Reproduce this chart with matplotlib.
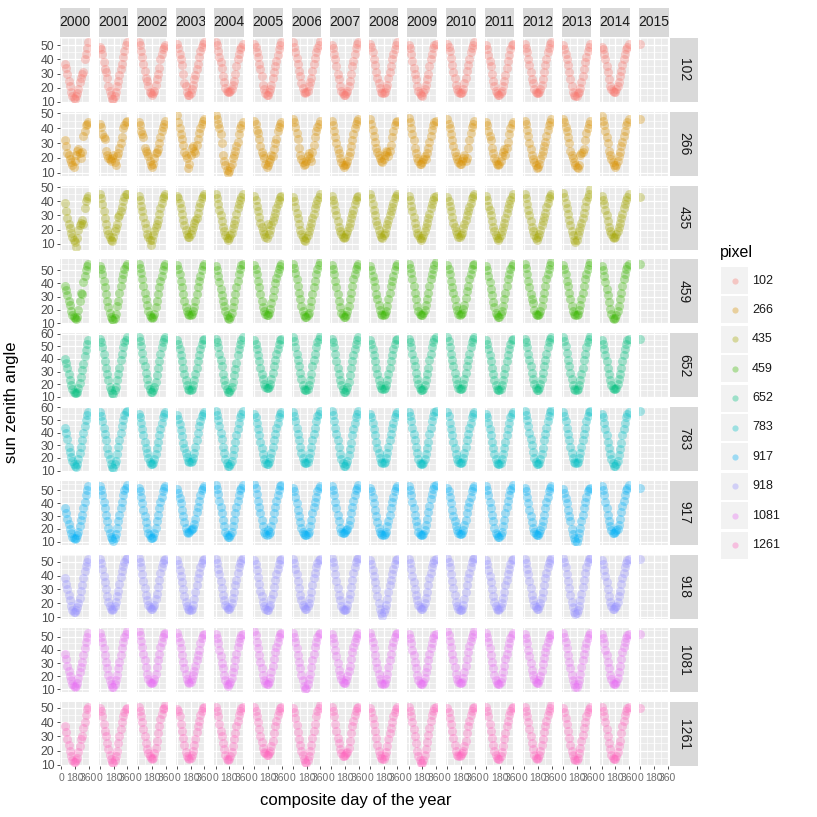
import matplotlib
matplotlib.use('Agg')
import matplotlib.pyplot as plt
import numpy as np

plt.rcParams['font.family'] = ['Liberation Sans', 'DejaVu Sans']

# 16-day composite days of the year
days = [1, 17, 33, 49, 65, 81, 97, 113, 129, 145, 161, 177, 193,
        209, 225, 241, 257, 273, 289, 305, 321, 337, 353]
years = list(range(2000, 2016))
pixels = ['102', '266', '435', '459', '652', '783', '917', '918', '1081', '1261']
colors = ['#F8766D', '#D89000', '#A3A500', '#39B600', '#00BF7D',
          '#00BFC4', '#00B0F6', '#9590FF', '#E76BF3', '#FF62BC']

# sun zenith angle, one list per year (2000 starts at day 49, 2015 has day 1 only)
sza_102 = [
    [37, 34, 30, 25, 21, 17, 14, 13, 12, 14, 16, 19, 24, 27, 30, 31, 40, 44, 48, 52],
    [49, 47, 44, 38, 33, 31, 27, 21, 18, 15, 12, 12, 14, 17, 21, 25, 29, 33, 37, 42, 46, 50, 52],
    [52, 50, 46, 42, 37, 32, 27, 25, 21, 17, 16, 15, 16, 18, 22, 26, 30, 34, 40, 44, 47, 49, 50],
    [51, 48, 44, 40, 36, 30, 23, 21, 17, 15, 15, 16, 19, 22, 26, 29, 33, 37, 42, 46, 49, 51, 52],
    [52, 50, 46, 42, 38, 34, 28, 24, 20, 18, 17, 17, 18, 19, 22, 25, 30, 35, 40, 44, 47, 49, 51],
    [51, 49, 45, 42, 37, 33, 28, 22, 19, 16, 15, 15, 17, 19, 22, 27, 31, 35, 39, 43, 47, 50, 52],
    [52, 49, 45, 41, 37, 32, 28, 23, 20, 17, 16, 17, 18, 21, 24, 27, 32, 37, 41, 45, 48, 50, 53],
    [50, 48, 44, 40, 35, 30, 26, 21, 18, 16, 15, 15, 16, 18, 21, 25, 30, 35, 39, 44, 48, 51, 52],
    [51, 49, 45, 40, 36, 31, 27, 23, 20, 17, 16, 16, 17, 20, 22, 27, 31, 35, 40, 44, 47, 50, 52],
    [50, 48, 44, 39, 34, 30, 26, 21, 18, 16, 15, 14, 17, 19, 22, 26, 30, 35, 40, 44, 48, 50, 51],
    [51, 49, 46, 41, 36, 31, 27, 22, 19, 17, 16, 16, 17, 19, 23, 27, 32, 36, 40, 45, 48, 50, 52],
    [50, 47, 43, 39, 35, 30, 25, 21, 18, 16, 15, 15, 16, 18, 21, 25, 29, 34, 39, 43, 47, 50, 51],
    [51, 48, 45, 40, 36, 31, 26, 23, 19, 17, 16, 16, 17, 19, 22, 26, 31, 36, 40, 45, 48, 51, 52],
    [50, 47, 44, 40, 36, 31, 26, 21, 17, 15, 14, 14, 16, 17, 20, 24, 28, 33, 38, 42, 46, 49, 51],
    [49, 47, 44, 40, 35, 31, 26, 21, 19, 18, 17, 17, 19, 21, 24, 28, 32, 36, 40, 44, 47, 49, 51],
    [51],
]
sza_266 = [
    [32, 28, 23, 22, 19, 17, 15, 14, 18, 22, 25, 26, 23, 20, 24, 35, 38, 42, 43, 44],
    [43, 41, 36, 34, 33, 25, 22, 20, 19, 18, 20, 22, 17, 15, 21, 23, 27, 30, 34, 40, 42, 44, 45],
    [44, 42, 38, 36, 34, 27, 25, 23, 21, 18, 15, 14, 16, 20, 23, 24, 26, 30, 34, 38, 41, 43, 45],
    [49, 44, 40, 36, 33, 29, 24, 22, 20, 13, 16, 22, 27, 28, 25, 23, 29, 33, 37, 40, 43, 45, 46],
    [49, 46, 43, 40, 36, 30, 22, 18, 15, 12, 10, 11, 14, 16, 20, 22, 25, 28, 31, 36, 40, 42, 44],
    [45, 43, 39, 37, 33, 28, 24, 22, 20, 16, 14, 15, 17, 19, 22, 21, 26, 30, 33, 38, 41, 43, 44],
    [46, 44, 41, 37, 33, 27, 22, 19, 17, 15, 16, 18, 21, 23, 20, 18, 24, 29, 34, 38, 41, 43, 45],
    [45, 42, 38, 34, 30, 26, 23, 20, 17, 15, 14, 15, 16, 18, 21, 24, 28, 32, 36, 40, 43, 45, 46],
    [46, 43, 39, 35, 31, 27, 24, 22, 20, 18, 17, 19, 22, 25, 24, 21, 25, 29, 34, 38, 42, 44, 45],
    [47, 44, 40, 36, 32, 27, 23, 20, 18, 16, 16, 17, 19, 21, 19, 23, 27, 31, 35, 39, 42, 44, 45],
    [46, 43, 40, 36, 32, 28, 24, 21, 19, 17, 16, 16, 18, 20, 22, 18, 20, 27, 32, 37, 41, 43, 45],
    [44, 42, 38, 35, 32, 27, 23, 20, 18, 16, 15, 16, 18, 21, 24, 26, 22, 27, 31, 36, 40, 43, 44],
    [45, 43, 39, 35, 30, 26, 22, 19, 17, 15, 13, 14, 16, 19, 22, 25, 28, 31, 35, 39, 42, 44, 46],
    [46, 44, 41, 38, 34, 30, 25, 22, 20, 17, 15, 14, 13, 15, 22, 23, 24, 26, 32, 37, 40, 43, 45],
    [48, 45, 42, 38, 34, 30, 25, 22, 19, 17, 15, 14, 15, 18, 21, 24, 28, 31, 35, 38, 42, 44, 46],
    [46],
]
sza_435 = [
    [39, 33, 28, 24, 21, 18, 15, 13, 11, 8, 14, 20, 23, 25, 27, 24, 35, 40, 42, 44],
    [45, 42, 38, 33, 28, 24, 20, 17, 15, 13, 12, 15, 19, 21, 24, 29, 30, 33, 36, 40, 43, 45, 45],
    [44, 41, 37, 33, 29, 25, 21, 17, 15, 13, 9, 13, 16, 19, 22, 24, 27, 31, 35, 39, 42, 44, 45],
    [44, 42, 39, 35, 31, 27, 23, 20, 17, 15, 15, 17, 20, 22, 25, 27, 28, 32, 36, 39, 42, 44, 45],
    [45, 42, 38, 34, 30, 26, 22, 19, 16, 14, 13, 14, 16, 18, 21, 24, 27, 31, 35, 38, 41, 43, 45],
    [44, 41, 37, 33, 29, 25, 22, 19, 17, 15, 14, 24, 17, 20, 23, 26, 29, 32, 35, 38, 41, 43, 44],
    [43, 40, 36, 32, 28, 24, 20, 17, 15, 13, 12, 14, 16, 19, 22, 25, 28, 31, 35, 38, 41, 43, 45],
    [44, 41, 38, 34, 30, 26, 22, 19, 17, 15, 14, 15, 17, 19, 22, 25, 28, 31, 34, 38, 41, 43, 44],
    [45, 42, 38, 34, 30, 26, 23, 20, 17, 15, 14, 16, 18, 21, 24, 27, 30, 33, 36, 39, 42, 44, 45],
    [44, 41, 37, 33, 29, 25, 21, 18, 16, 14, 13, 14, 16, 19, 22, 25, 28, 31, 35, 38, 41, 43, 44],
    [43, 40, 37, 33, 29, 25, 22, 19, 17, 15, 15, 16, 18, 21, 24, 27, 30, 33, 36, 39, 42, 44, 45],
    [44, 41, 37, 34, 30, 26, 22, 19, 16, 14, 13, 14, 16, 19, 22, 25, 28, 32, 35, 38, 41, 43, 45],
    [45, 42, 38, 34, 30, 26, 22, 19, 16, 14, 13, 15, 17, 20, 23, 26, 29, 32, 36, 39, 42, 44, 45],
    [46, 43, 39, 35, 31, 27, 23, 19, 16, 13, 11, 13, 16, 19, 22, 25, 28, 32, 36, 40, 43, 45, 49],
    [44, 41, 38, 34, 30, 26, 22, 19, 17, 15, 14, 15, 17, 19, 22, 25, 28, 31, 35, 38, 41, 43, 45],
    [43],
]
sza_459 = [
    [38, 35, 31, 27, 24, 19, 16, 15, 14, 13, 15, 20, 27, 33, 32, 41, 46, 50, 53, 55],
    [53, 51, 47, 42, 37, 32, 27, 22, 18, 15, 13, 12, 14, 17, 23, 27, 33, 38, 43, 47, 51, 53, 55],
    [55, 52, 48, 43, 38, 33, 28, 24, 19, 16, 15, 14, 15, 17, 22, 27, 32, 37, 42, 46, 50, 53, 55],
    [54, 51, 47, 42, 37, 32, 27, 22, 19, 17, 16, 16, 17, 19, 22, 27, 32, 37, 42, 46, 50, 53, 55],
    [53, 50, 46, 41, 36, 31, 27, 23, 19, 16, 14, 13, 15, 18, 22, 27, 32, 37, 42, 47, 51, 54, 55],
    [54, 51, 47, 42, 37, 32, 27, 22, 19, 17, 16, 16, 18, 21, 25, 30, 35, 40, 44, 48, 51, 53, 55],
    [55, 52, 48, 43, 38, 33, 28, 23, 19, 16, 15, 15, 16, 18, 22, 27, 32, 37, 42, 47, 51, 54, 56],
    [54, 51, 47, 42, 37, 32, 27, 22, 18, 16, 15, 15, 16, 19, 23, 28, 33, 38, 43, 47, 51, 53, 55],
    [53, 50, 46, 42, 37, 32, 28, 24, 20, 17, 16, 16, 17, 19, 23, 28, 33, 38, 42, 46, 50, 53, 55],
    [55, 52, 48, 43, 38, 33, 28, 23, 19, 17, 16, 16, 18, 20, 24, 28, 33, 38, 43, 47, 51, 54, 56],
    [54, 51, 47, 42, 37, 33, 28, 23, 20, 17, 16, 17, 18, 21, 24, 29, 34, 38, 43, 47, 51, 54, 55],
    [53, 50, 46, 41, 36, 31, 26, 22, 18, 16, 15, 15, 17, 19, 23, 28, 33, 38, 43, 47, 51, 53, 55],
    [55, 52, 47, 42, 37, 32, 28, 25, 20, 17, 16, 16, 17, 19, 23, 28, 33, 38, 43, 47, 51, 54, 56],
    [54, 51, 47, 42, 38, 33, 28, 23, 19, 17, 16, 16, 17, 20, 24, 28, 33, 38, 43, 47, 51, 54, 56],
    [53, 50, 46, 41, 36, 31, 26, 21, 17, 14, 13, 14, 16, 19, 23, 28, 33, 38, 43, 47, 51, 53, 55],
    [55],
]
sza_652 = [
    [40, 37, 33, 28, 23, 19, 16, 14, 13, 13, 14, 17, 21, 26, 31, 36, 42, 47, 52, 55],
    [56, 53, 49, 44, 38, 33, 28, 23, 18, 15, 13, 12, 15, 18, 23, 28, 33, 39, 44, 49, 53, 55, 57],
    [57, 54, 50, 45, 39, 34, 29, 24, 19, 16, 14, 14, 15, 18, 22, 27, 33, 38, 44, 49, 53, 56, 57],
    [55, 52, 48, 43, 38, 33, 28, 23, 19, 16, 15, 15, 16, 19, 23, 28, 33, 38, 43, 48, 52, 55, 56],
    [56, 53, 49, 44, 39, 34, 28, 23, 19, 16, 14, 14, 15, 18, 22, 27, 32, 37, 43, 48, 52, 55, 57],
    [55, 52, 48, 43, 38, 33, 28, 24, 20, 18, 17, 17, 18, 20, 24, 29, 34, 39, 44, 48, 52, 55, 56],
    [57, 54, 49, 44, 39, 34, 29, 24, 19, 16, 15, 15, 16, 19, 23, 28, 34, 39, 44, 49, 53, 56, 58],
    [56, 53, 49, 44, 38, 33, 28, 23, 19, 16, 14, 14, 15, 18, 22, 27, 33, 38, 43, 48, 52, 55, 57],
    [55, 52, 48, 43, 38, 33, 28, 23, 19, 17, 16, 16, 17, 19, 23, 28, 33, 38, 43, 48, 52, 55, 56],
    [56, 53, 49, 44, 39, 34, 29, 24, 20, 17, 15, 15, 16, 19, 23, 28, 33, 39, 44, 49, 53, 56, 57],
    [57, 54, 49, 44, 39, 34, 29, 24, 20, 17, 16, 16, 17, 20, 24, 29, 34, 39, 44, 49, 53, 56, 57],
    [55, 52, 48, 43, 38, 33, 28, 23, 19, 16, 15, 15, 16, 19, 23, 28, 33, 38, 43, 48, 52, 55, 56],
    [56, 53, 49, 44, 39, 34, 29, 24, 20, 17, 15, 15, 17, 20, 24, 29, 34, 39, 44, 49, 53, 56, 57],
    [57, 54, 50, 45, 39, 34, 29, 24, 19, 16, 15, 15, 16, 19, 23, 28, 33, 39, 44, 49, 53, 56, 58],
    [55, 52, 48, 43, 38, 33, 28, 23, 19, 17, 16, 16, 17, 20, 24, 28, 33, 38, 43, 48, 52, 55, 56],
    [56],
]
sza_783 = [
    [44, 40, 35, 29, 25, 21, 18, 15, 14, 13, 15, 19, 24, 29, 34, 40, 45, 50, 54, 56],
    [56, 53, 49, 44, 39, 34, 28, 23, 19, 15, 13, 12, 15, 18, 23, 29, 34, 40, 45, 50, 54, 56, 57],
    [55, 52, 48, 43, 38, 33, 28, 24, 20, 17, 15, 15, 16, 19, 23, 28, 33, 38, 43, 48, 52, 55, 56],
    [54, 51, 47, 42, 37, 32, 28, 24, 21, 18, 17, 17, 18, 20, 24, 29, 34, 40, 45, 49, 53, 55, 56],
    [57, 54, 50, 45, 40, 35, 29, 24, 19, 16, 14, 14, 15, 18, 22, 27, 33, 38, 43, 48, 52, 55, 57],
    [55, 52, 48, 43, 38, 33, 28, 23, 19, 16, 15, 15, 17, 20, 24, 29, 34, 39, 44, 48, 52, 55, 56],
    [56, 53, 49, 44, 39, 34, 29, 24, 20, 17, 16, 16, 17, 20, 24, 29, 34, 39, 44, 49, 53, 55, 57],
    [57, 54, 49, 44, 39, 34, 29, 23, 19, 16, 14, 14, 15, 18, 22, 27, 32, 38, 43, 48, 52, 55, 57],
    [55, 52, 48, 43, 38, 33, 28, 24, 20, 17, 16, 16, 17, 20, 24, 29, 34, 39, 44, 48, 52, 55, 56],
    [56, 53, 49, 44, 39, 34, 29, 24, 19, 16, 15, 15, 16, 19, 23, 28, 33, 39, 44, 49, 53, 56, 57],
    [56, 53, 48, 43, 38, 33, 28, 23, 19, 17, 16, 16, 17, 20, 24, 29, 34, 39, 44, 48, 52, 55, 56],
    [55, 52, 48, 43, 38, 33, 28, 23, 19, 16, 15, 15, 16, 19, 23, 28, 33, 38, 43, 48, 52, 55, 56],
    [57, 54, 50, 45, 40, 35, 30, 25, 20, 17, 15, 15, 16, 19, 23, 28, 34, 39, 44, 49, 53, 56, 58],
    [56, 53, 49, 44, 39, 34, 29, 24, 20, 17, 16, 16, 17, 20, 24, 29, 34, 39, 44, 49, 53, 56, 57],
    [55, 52, 48, 43, 38, 33, 28, 23, 19, 16, 14, 14, 15, 18, 22, 27, 32, 38, 43, 48, 52, 55, 56],
    [57],
]
sza_917 = [
    [36, 32, 28, 24, 20, 17, 14, 13, 12, 13, 15, 18, 22, 27, 31, 36, 41, 46, 50, 53],
    [53, 50, 46, 41, 36, 31, 26, 21, 17, 14, 12, 11, 13, 16, 21, 26, 31, 36, 41, 46, 50, 52, 54],
    [52, 49, 45, 40, 35, 30, 25, 21, 17, 15, 13, 13, 14, 17, 21, 26, 31, 36, 41, 45, 49, 52, 53],
    [51, 48, 44, 40, 35, 30, 25, 21, 18, 17, 18, 19, 20, 21, 24, 28, 33, 37, 42, 46, 50, 52, 53],
    [54, 51, 47, 42, 37, 32, 27, 22, 18, 15, 14, 14, 15, 18, 22, 27, 32, 37, 42, 46, 50, 52, 54],
    [55, 52, 47, 42, 37, 32, 27, 22, 18, 16, 15, 19, 16, 18, 22, 27, 32, 37, 42, 46, 50, 53, 54],
    [52, 49, 45, 40, 35, 30, 25, 21, 18, 16, 15, 15, 16, 18, 22, 27, 32, 37, 41, 45, 49, 52, 53],
    [53, 50, 46, 41, 36, 31, 26, 21, 18, 17, 17, 18, 19, 20, 23, 27, 32, 37, 42, 46, 50, 52, 54],
    [52, 49, 45, 40, 35, 30, 25, 21, 18, 16, 15, 15, 16, 18, 22, 26, 31, 36, 41, 45, 49, 52, 53],
    [53, 50, 46, 41, 36, 31, 26, 22, 18, 16, 15, 15, 16, 19, 23, 28, 33, 38, 43, 47, 51, 53, 54],
    [52, 49, 45, 40, 35, 30, 26, 22, 19, 17, 16, 16, 17, 19, 23, 27, 32, 37, 41, 45, 49, 52, 53],
    [53, 50, 46, 41, 36, 31, 26, 21, 17, 15, 14, 14, 15, 18, 22, 27, 32, 37, 42, 46, 50, 52, 54],
    [52, 49, 45, 40, 35, 30, 25, 21, 18, 16, 15, 15, 17, 19, 22, 26, 31, 36, 41, 45, 49, 52, 53],
    [51, 48, 44, 40, 35, 30, 26, 20, 16, 13, 11, 10, 13, 17, 21, 26, 31, 36, 41, 45, 49, 51, 52],
    [53, 50, 46, 41, 36, 31, 26, 22, 19, 17, 17, 18, 19, 20, 23, 28, 33, 38, 42, 46, 50, 52, 54],
    [52],
]
sza_918 = [
    [38, 34, 30, 26, 22, 18, 15, 14, 14, 15, 17, 20, 24, 29, 33, 38, 43, 47, 50, 52],
    [52, 49, 45, 40, 35, 30, 25, 21, 18, 16, 15, 16, 18, 21, 25, 29, 34, 39, 43, 47, 50, 52, 53],
    [53, 50, 46, 41, 36, 31, 26, 22, 19, 17, 16, 16, 17, 19, 23, 27, 32, 37, 42, 46, 49, 51, 52],
    [51, 48, 44, 40, 35, 30, 25, 21, 18, 16, 15, 15, 16, 19, 23, 28, 33, 38, 42, 46, 49, 51, 52],
    [52, 49, 45, 41, 36, 31, 26, 22, 19, 17, 16, 16, 17, 20, 24, 28, 33, 37, 42, 46, 49, 51, 53],
    [51, 48, 44, 39, 34, 29, 25, 21, 18, 16, 15, 15, 17, 19, 23, 27, 32, 37, 41, 45, 48, 51, 52],
    [52, 49, 45, 41, 36, 31, 26, 22, 19, 17, 16, 16, 18, 20, 24, 28, 33, 38, 42, 46, 49, 51, 52],
    [53, 50, 46, 41, 36, 31, 26, 22, 18, 16, 15, 15, 16, 19, 23, 27, 32, 37, 42, 46, 50, 52, 53],
    [51, 48, 44, 40, 35, 30, 25, 20, 16, 13, 11, 14, 16, 19, 23, 28, 33, 37, 41, 45, 48, 51, 52],
    [52, 49, 45, 40, 35, 30, 26, 22, 19, 17, 16, 16, 17, 20, 24, 28, 33, 38, 42, 46, 49, 51, 52],
    [53, 50, 46, 41, 36, 31, 26, 21, 18, 16, 15, 15, 16, 19, 23, 28, 33, 38, 42, 46, 50, 52, 53],
    [51, 48, 44, 40, 35, 30, 25, 21, 18, 16, 15, 16, 17, 20, 24, 28, 33, 37, 41, 45, 48, 51, 52],
    [52, 49, 45, 41, 36, 31, 26, 22, 19, 17, 16, 16, 18, 20, 24, 28, 33, 38, 42, 46, 49, 51, 53],
    [53, 50, 46, 41, 36, 31, 26, 21, 17, 14, 12, 13, 15, 18, 22, 27, 32, 37, 42, 46, 50, 52, 53],
    [51, 48, 44, 40, 35, 30, 25, 21, 18, 16, 16, 17, 18, 21, 25, 29, 34, 38, 42, 46, 49, 51, 52],
    [52],
]
sza_1081 = [
    [37, 33, 28, 24, 20, 17, 14, 13, 12, 13, 15, 19, 23, 27, 31, 36, 41, 46, 50, 53],
    [53, 50, 46, 41, 36, 31, 26, 21, 17, 14, 12, 12, 14, 17, 21, 26, 31, 36, 41, 46, 50, 52, 54],
    [54, 51, 47, 42, 37, 32, 27, 22, 18, 16, 15, 15, 16, 18, 22, 27, 32, 37, 42, 46, 50, 52, 53],
    [53, 50, 46, 41, 36, 31, 26, 22, 18, 16, 15, 16, 18, 21, 24, 28, 32, 36, 40, 45, 49, 51, 52],
    [52, 49, 45, 40, 35, 30, 26, 21, 17, 14, 13, 14, 16, 19, 23, 27, 32, 37, 42, 46, 49, 51, 52],
    [54, 51, 46, 41, 36, 31, 26, 21, 17, 15, 14, 14, 16, 19, 23, 28, 33, 38, 42, 46, 50, 52, 53],
    [53, 50, 46, 41, 36, 31, 26, 21, 17, 13, 10, 11, 14, 18, 22, 27, 32, 37, 42, 46, 50, 52, 53],
    [52, 49, 45, 40, 35, 30, 25, 21, 18, 16, 15, 15, 17, 20, 24, 28, 33, 38, 42, 46, 49, 51, 53],
    [53, 50, 46, 41, 36, 31, 26, 22, 18, 15, 14, 14, 15, 18, 22, 27, 32, 37, 42, 46, 50, 52, 53],
    [52, 49, 45, 40, 36, 31, 26, 21, 17, 15, 14, 14, 16, 19, 23, 27, 32, 37, 41, 45, 49, 51, 52],
    [54, 51, 47, 42, 37, 32, 27, 22, 18, 16, 15, 15, 16, 19, 23, 28, 33, 38, 43, 47, 50, 52, 54],
    [53, 50, 46, 41, 36, 31, 26, 21, 17, 15, 14, 14, 16, 19, 23, 28, 33, 37, 41, 45, 49, 51, 53],
    [52, 49, 45, 40, 35, 30, 25, 21, 18, 16, 15, 15, 17, 20, 24, 29, 34, 38, 42, 46, 49, 51, 52],
    [53, 50, 46, 41, 36, 31, 26, 21, 17, 14, 12, 12, 14, 17, 22, 27, 32, 37, 41, 45, 49, 51, 53],
    [52, 49, 45, 40, 36, 31, 26, 21, 18, 15, 14, 14, 16, 19, 23, 28, 33, 38, 42, 46, 49, 51, 52],
    [52],
]
sza_1261 = [
    [37, 33, 28, 24, 20, 16, 13, 12, 12, 13, 15, 19, 23, 28, 30, 36, 40, 45, 49, 51],
    [50, 48, 44, 39, 34, 30, 25, 21, 17, 14, 12, 11, 13, 16, 20, 25, 30, 35, 40, 44, 47, 49, 50],
    [51, 48, 44, 40, 35, 30, 25, 21, 18, 16, 15, 14, 15, 18, 22, 27, 32, 37, 42, 46, 49, 50, 52],
    [49, 48, 44, 39, 34, 29, 24, 19, 16, 15, 14, 15, 17, 20, 24, 28, 33, 37, 41, 45, 48, 50, 51],
    [51, 48, 44, 39, 34, 30, 25, 21, 17, 14, 13, 14, 16, 19, 23, 28, 32, 37, 41, 45, 48, 50, 51],
    [51, 48, 44, 40, 35, 30, 26, 22, 19, 18, 17, 17, 18, 20, 23, 27, 32, 37, 41, 45, 48, 50, 51],
    [50, 47, 43, 38, 33, 28, 24, 20, 17, 14, 12, 11, 13, 16, 20, 24, 29, 34, 39, 44, 48, 50, 52],
    [51, 48, 44, 39, 34, 29, 25, 21, 18, 16, 16, 17, 18, 19, 22, 27, 32, 37, 41, 45, 48, 50, 51],
    [50, 47, 43, 39, 34, 29, 24, 20, 17, 15, 14, 14, 16, 19, 23, 28, 32, 36, 40, 44, 47, 49, 51],
    [51, 48, 44, 40, 35, 30, 25, 20, 16, 13, 11, 11, 13, 17, 21, 26, 31, 36, 41, 45, 48, 50, 51],
    [50, 47, 43, 39, 34, 29, 24, 20, 17, 16, 16, 17, 18, 20, 23, 27, 32, 37, 41, 45, 48, 50, 51],
    [51, 48, 44, 39, 34, 29, 24, 20, 17, 15, 14, 14, 16, 19, 23, 28, 32, 37, 41, 45, 48, 50, 51],
    [51, 48, 44, 40, 35, 30, 25, 21, 17, 15, 14, 15, 17, 20, 24, 28, 33, 37, 41, 45, 48, 50, 52],
    [50, 47, 43, 39, 34, 29, 24, 20, 17, 14, 13, 13, 15, 18, 22, 27, 31, 36, 40, 44, 47, 49, 51],
    [51, 48, 44, 40, 35, 30, 25, 21, 17, 15, 14, 14, 16, 19, 23, 27, 32, 37, 41, 45, 48, 50, 51],
    [50],
]
sza_rows = [sza_102, sza_266, sza_435, sza_459, sza_652,
            sza_783, sza_917, sza_918, sza_1081, sza_1261]


def days_of(year):
    if year == 2000:
        return days[3:]
    if year == 2015:
        return days[:1]
    return days


W = H = 817
fig = plt.figure(figsize=(W / 100, H / 100), dpi=100)


def box(x, y, w, h):
    # pixel box (top-left origin) -> figure fraction
    return [x / W, 1 - (y + h) / H, w / W, h / H]


px0, pw, pdx = 60, 29.5, 38.6
py0, ph, pdy = 38, 64, 73.8
x_lo, x_hi = 1 - 0.05 * 352, 353 + 0.05 * 352

for i, (pix, col, rows) in enumerate(zip(pixels, colors, sza_rows)):
    allv = np.concatenate([np.array(r) for r in rows])
    lo, hi = allv.min(), allv.max()
    pad = 0.05 * (hi - lo)
    for j, yr in enumerate(years):
        ax = fig.add_axes(box(px0 + j * pdx, py0 + i * pdy, pw, ph))
        ax.set_facecolor('#EBEBEB')
        ax.scatter(days_of(yr), rows[j], s=42, color=col, alpha=0.32, linewidths=0)
        ax.set_xticks([0, 180, 360])
        ax.set_xticks([90, 270], minor=True)
        ax.set_yticks(range(10, 70, 10))
        ax.set_yticks(range(5, 70, 10), minor=True)
        ax.set_xlim(x_lo, x_hi)
        ax.set_ylim(lo - pad, hi + pad)
        ax.grid(which='major', color='white', lw=0.9)
        ax.grid(which='minor', color='white', lw=0.45)
        ax.set_axisbelow(True)
        for s in ax.spines.values():
            s.set_visible(False)
        ax.tick_params(which='minor', length=0)
        ax.tick_params(which='major', length=2.5, width=0.6, color='#333333', pad=1.5)
        if i == len(pixels) - 1:
            ax.tick_params(axis='x', labelsize=7.5, labelcolor='#6E6E6E', pad=2.5)
        else:
            ax.tick_params(axis='x', length=0, labelbottom=False)
        if j == 0:
            ax.tick_params(axis='y', labelsize=8.8, labelcolor='#4D4D4D')
        else:
            ax.tick_params(axis='y', length=0, labelleft=False)

        if i == 0:
            st = fig.add_axes(box(px0 + j * pdx, 8, pw, 29))
            st.set_facecolor('#D9D9D9')
            st.set_xticks([]); st.set_yticks([])
            for s in st.spines.values():
                s.set_visible(False)
            st.text(0.5, 0.5, str(yr), ha='center', va='center', fontsize=10,
                    color='#1A1A1A', transform=st.transAxes, clip_on=True)

    st = fig.add_axes(box(670, py0 + i * pdy, 28, ph))
    st.set_facecolor('#D9D9D9')
    st.set_xticks([]); st.set_yticks([])
    for s in st.spines.values():
        s.set_visible(False)
    st.text(0.5, 0.5, pix, ha='center', va='center', fontsize=10, rotation=270,
            color='#1A1A1A', transform=st.transAxes, clip_on=True)

fig.text(356 / W, 1 - 800 / H, 'composite day of the year', ha='center', va='center', fontsize=12)
fig.text(12 / W, 1 - 402 / H, 'sun zenith angle', ha='center', va='center', fontsize=12, rotation=90)

# legend
lg = fig.add_axes(box(712, 240, 100, 330))
lg.set_xlim(712, 812)
lg.set_ylim(570, 240)
lg.axis('off')
lg.text(720, 253, 'pixel', ha='left', va='center', fontsize=11.5)
for k, (pix, col) in enumerate(zip(pixels, colors)):
    yk = 267 + 29.4 * k
    lg.add_patch(plt.Rectangle((721, yk), 27, 27, facecolor='#F2F2F2', edgecolor='none'))
    lg.scatter([734.5], [yk + 13.5], s=20, color=col, alpha=0.35, linewidths=0)
    lg.text(752, yk + 13.5, pix, ha='left', va='center', fontsize=9, color='#1A1A1A')

fig.savefig('out.png', dpi=100)
